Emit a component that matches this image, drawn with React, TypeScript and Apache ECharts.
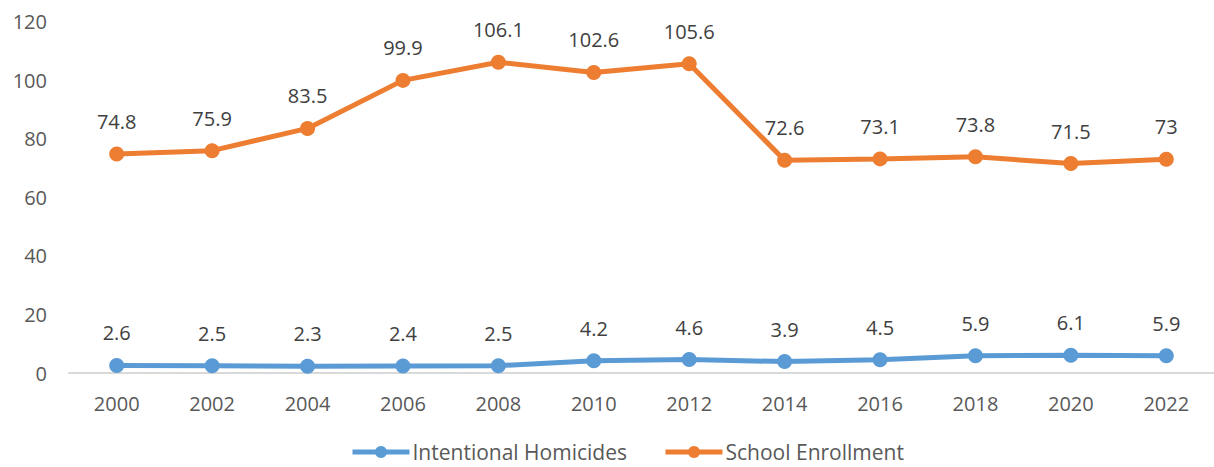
import React, { useEffect, useRef } from "react";
import * as echarts from "echarts";

const years = ["2000", "2002", "2004", "2006", "2008", "2010", "2012", "2014", "2016", "2018", "2020", "2022"];
const homicides = [2.6, 2.5, 2.3, 2.4, 2.5, 4.2, 4.6, 3.9, 4.5, 5.9, 6.1, 5.9];
const enrollment = [74.8, 75.9, 83.5, 99.9, 106.1, 102.6, 105.6, 72.6, 73.1, 73.8, 71.5, 73];

const FONT = "'Open Sans', 'Liberation Sans', sans-serif";

export default function App() {
  const ref = useRef<HTMLDivElement>(null);
  useEffect(() => {
    if (!ref.current) return;
    const chart = echarts.init(ref.current, undefined, { renderer: "svg" });
    const mk = (name: string, data: number[], color: string) => ({
      name,
      type: "line",
      data,
      symbol: "circle",
      symbolSize: 15,
      itemStyle: { color },
      lineStyle: { color, width: 5 },
      label: {
        show: true,
        position: "top",
        distance: 15,
        color: "#404040",
        fontSize: 20,
        fontFamily: FONT,
      },
    });
    chart.setOption({
      animation: false,
      textStyle: { fontFamily: FONT },
      grid: { left: 69, right: -9, top: 21.5, bottom: 94 },
      legend: {
        top: 441,
        left: 350,
        padding: 0,
        itemWidth: 57,
        itemHeight: 15,
        itemGap: 36,
        lineStyle: { width: 5 },
        textStyle: {
          fontSize: 21,
          lineHeight: 22,
          color: "#595959",
          fontFamily: FONT,
          padding: [0, 0, 0, -2],
        },
        data: ["Intentional Homicides", "School Enrollment"],
      },
      xAxis: {
        type: "category",
        data: years,
        boundaryGap: true,
        axisLine: { lineStyle: { color: "#d9d9d9", width: 2 } },
        axisTick: { show: false },
        axisLabel: { color: "#595959", fontSize: 20, margin: 20, fontFamily: FONT },
      },
      yAxis: {
        type: "value",
        min: 0,
        max: 120,
        interval: 20,
        axisLine: { show: false },
        axisTick: { show: false },
        splitLine: { show: false },
        axisLabel: { color: "#595959", fontSize: 20, margin: 22, fontFamily: FONT },
      },
      series: [
        mk("Intentional Homicides", homicides, "#5B9BD5"),
        mk("School Enrollment", enrollment, "#ED7D31"),
      ],
    });
    return () => chart.dispose();
  }, []);
  return (
    <div
      ref={ref}
      style={{ position: "absolute", left: 0, top: 0, width: 1214, height: 467, background: "#fff" }}
    />
  );
}
